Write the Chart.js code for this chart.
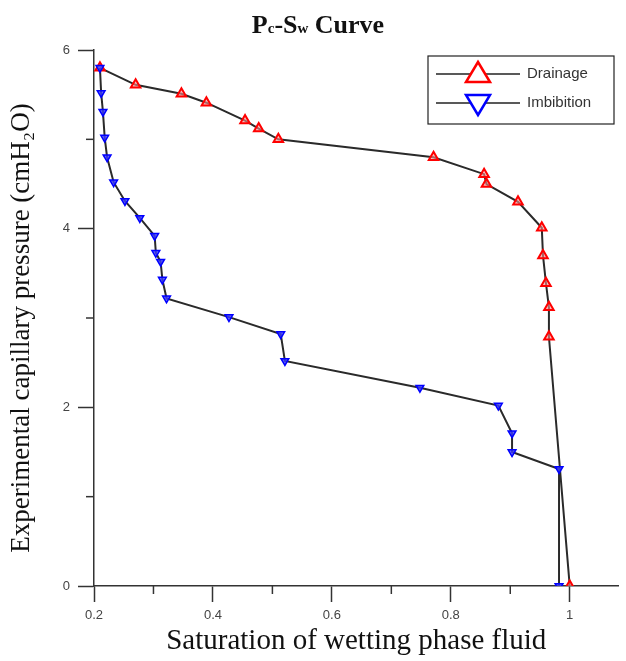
<!DOCTYPE html>
<html>
<head>
<meta charset="utf-8">
<script src="https://cdn.jsdelivr.net/npm/chart.js@4/dist/chart.umd.min.js"></script>
<style>
  html, body { margin: 0; padding: 0; background: #fff; }
  #wrap { width: 626px; height: 661px; position: relative; }
</style>
</head>
<body>
<div id="wrap"><canvas id="monGraphique"></canvas></div>
<script>
// Drainage curve (red up triangles)
const drainageSw = [0.21, 0.27, 0.347, 0.389, 0.454, 0.477, 0.51, 0.771, 0.856, 0.86, 0.913, 0.953, 0.955, 0.96, 0.965, 0.965, 1.0];
const drainagePc = [5.8, 5.61, 5.51, 5.41, 5.21, 5.12, 5.0, 4.80, 4.61, 4.50, 4.30, 4.01, 3.70, 3.39, 3.12, 2.79, 0];

// Imbibition curve (blue down triangles)
const imbibitionSw = [0.21, 0.212, 0.215, 0.218, 0.222, 0.233, 0.252, 0.277, 0.302, 0.304, 0.312, 0.315, 0.322, 0.427, 0.514, 0.521, 0.748, 0.88, 0.903, 0.903, 0.982, 0.982];
const imbibitionPc = [5.8, 5.52, 5.31, 5.02, 4.80, 4.52, 4.31, 4.12, 3.92, 3.73, 3.63, 3.43, 3.22, 3.01, 2.82, 2.52, 2.22, 2.02, 1.71, 1.50, 1.31, 0];

// Ticks
const xTicks = [0.2, 0.3, 0.4, 0.5, 0.6, 0.7, 0.8, 0.9, 1.0];
const xTickLabels = ['0.2', '', '0.4', '', '0.6', '', '0.8', '', '1'];
const yTicks = [0, 1, 2, 3, 4, 5, 6];
const yTickLabels = ['0', '', '2', '', '4', '', '6'];

const seriesNames = ['Drainage', 'Imbibition'];
const yTitle = 'Experimental capillary pressure (cmH\u2082O)';

function toPoints(xs, ys) {
    return xs.map((x, i) => ({ x: x, y: ys[i] }));
}

const axisColor = '#333';
const serif = "'Liberation Serif', 'DejaVu Serif', serif";
const sans = "'Liberation Sans', Arial, sans-serif";

// Petites graduations + titres + légende dessinés à la main
const extras = {
    id: 'extras',
    afterDraw(chart) {
        const ctx = chart.ctx;
        const xs = chart.scales.x;
        const ys = chart.scales.y;
        const area = chart.chartArea;
        ctx.save();
        ctx.strokeStyle = axisColor;
        ctx.lineWidth = 1.5;
        // minor ticks
        xTicks.forEach((v, i) => {
            if (xTickLabels[i] === '') {
                const px = xs.getPixelForValue(v);
                ctx.beginPath();
                ctx.moveTo(px, area.bottom);
                ctx.lineTo(px, area.bottom + 8);
                ctx.stroke();
            }
        });
        yTicks.forEach((v, i) => {
            if (yTickLabels[i] === '') {
                const py = ys.getPixelForValue(v);
                ctx.beginPath();
                ctx.moveTo(area.left, py);
                ctx.lineTo(area.left - 8, py);
                ctx.stroke();
            }
        });

        // y axis title (rotated)
        ctx.save();
        ctx.translate(22, 328);
        ctx.rotate(-Math.PI / 2);
        ctx.font = '27px ' + serif;
        ctx.fillStyle = '#111';
        ctx.textAlign = 'center';
        ctx.textBaseline = 'middle';
        ctx.fillText(yTitle, 0, 0);
        ctx.restore();

        // title Pc-Sw Curve
        const big = 'bold 26px ' + serif;
        const small = 'bold 15px ' + serif;
        const parts = [['P', big], ['c', small], ['-S', big], ['w', small], [' Curve', big]];
        let total = 0;
        parts.forEach(p => { ctx.font = p[1]; total += ctx.measureText(p[0]).width; });
        let tx = 318 - total / 2;
        const ty = 33;
        ctx.fillStyle = '#111';
        ctx.textBaseline = 'alphabetic';
        ctx.textAlign = 'left';
        parts.forEach(p => {
            ctx.font = p[1];
            ctx.fillText(p[0], tx, ty);
            tx += ctx.measureText(p[0]).width;
        });

        // legend
        ctx.lineWidth = 1.2;
        ctx.strokeStyle = '#222';
        ctx.strokeRect(428, 56, 186, 68);
        const rows = [
            { y: 74, color: '#ff0000', up: true, label: seriesNames[0] },
            { y: 103, color: '#0000ff', up: false, label: seriesNames[1] }
        ];
        rows.forEach(r => {
            ctx.strokeStyle = '#222';
            ctx.lineWidth = 1.5;
            ctx.beginPath();
            ctx.moveTo(436, r.y);
            ctx.lineTo(520, r.y);
            ctx.stroke();
            ctx.strokeStyle = r.color;
            ctx.fillStyle = '#fff';
            ctx.lineWidth = 2.5;
            ctx.beginPath();
            if (r.up) {
                ctx.moveTo(478, r.y - 12);
                ctx.lineTo(490, r.y + 8);
                ctx.lineTo(466, r.y + 8);
            } else {
                ctx.moveTo(478, r.y + 12);
                ctx.lineTo(490, r.y - 8);
                ctx.lineTo(466, r.y - 8);
            }
            ctx.closePath();
            ctx.fill();
            ctx.stroke();
            ctx.fillStyle = '#333';
            ctx.font = '15px ' + sans;
            ctx.textBaseline = 'middle';
            ctx.fillText(r.label, 527, r.y);
        });
        ctx.restore();
    }
};

const ctx = document.getElementById('monGraphique').getContext('2d');
const myChart = new Chart(ctx, {
    type: 'scatter',
    data: {
        datasets: [
            {
                label: seriesNames[0],
                data: toPoints(drainageSw, drainagePc),
                showLine: true,
                borderColor: '#2a2a2a',
                borderWidth: 2,
                pointStyle: 'triangle',
                pointRadius: 5.5,
                pointBorderColor: '#ff0000',
                pointBackgroundColor: 'rgba(255,140,140,0.6)',
                pointBorderWidth: 2,
                order: 2
            },
            {
                label: seriesNames[1],
                data: toPoints(imbibitionSw, imbibitionPc),
                showLine: true,
                borderColor: '#2a2a2a',
                borderWidth: 2,
                pointStyle: 'triangle',
                rotation: 180,
                pointRotation: 180,
                pointRadius: 4.5,
                pointBorderColor: '#0000ff',
                pointBackgroundColor: 'rgba(60,60,255,0.8)',
                pointBorderWidth: 1.5,
                order: 1
            }
        ]
    },
    options: {
        responsive: true,
        maintainAspectRatio: false,
        animation: false,
        layout: { padding: { top: 50, right: 4, left: 0, bottom: 0 } },
        plugins: {
            legend: { display: false },
            tooltip: { enabled: false }
        },
        scales: {
            x: {
                type: 'linear',
                min: 0.2,
                max: 1.082,
                afterBuildTicks: s => { s.ticks = xTicks.map(v => ({ value: v })); },
                afterFit: s => { s.height = 75; },
                border: { color: axisColor, width: 1.5 },
                grid: {
                    drawOnChartArea: false,
                    tickLength: 16,
                    tickWidth: 1.5,
                    tickColor: c => (c.tick && xTickLabels[xTicks.indexOf(c.tick.value)] !== '') ? axisColor : 'transparent'
                },
                ticks: {
                    autoSkip: false,
                    maxRotation: 0,
                    padding: 6,
                    color: '#444',
                    font: { family: sans, size: 13 },
                    callback: (v, i) => xTickLabels[i]
                },
                title: {
                    display: true,
                    text: 'Saturation of wetting phase fluid',
                    color: '#111',
                    font: { family: serif, size: 29 },
                    padding: { top: 0, bottom: 2 }
                }
            },
            y: {
                type: 'linear',
                min: 0,
                max: 6,
                afterBuildTicks: s => { s.ticks = yTicks.map(v => ({ value: v })); },
                afterFit: s => { s.width = 94; },
                border: { color: axisColor, width: 1.5 },
                grid: {
                    drawOnChartArea: false,
                    tickLength: 16,
                    tickWidth: 1.5,
                    tickColor: c => (c.tick && yTickLabels[yTicks.indexOf(c.tick.value)] !== '') ? axisColor : 'transparent'
                },
                ticks: {
                    autoSkip: false,
                    padding: 8,
                    color: '#444',
                    font: { family: sans, size: 13 },
                    callback: (v, i) => yTickLabels[i]
                },
                title: { display: false }
            }
        }
    },
    plugins: [extras]
});
</script>
</body>
</html>
